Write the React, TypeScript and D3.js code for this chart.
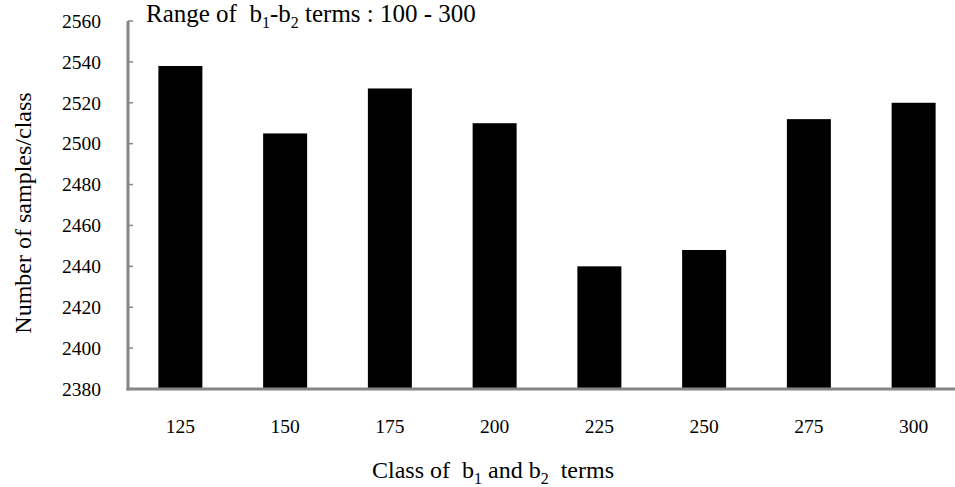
import { useEffect, useRef } from 'react';
import * as d3 from 'd3';

const categories = ['125', '150', '175', '200', '225', '250', '275', '300'];
const samples = [2538, 2505, 2527, 2510, 2440, 2448, 2512, 2520];
const yTicks = [2380, 2400, 2420, 2440, 2460, 2480, 2500, 2520, 2540, 2560];

const WIDTH = 955;
const HEIGHT = 487;
const FONT = "'Liberation Serif', 'Times New Roman', 'DejaVu Serif', serif";

export default function App() {
  const svgRef = useRef<SVGSVGElement>(null);

  useEffect(() => {
    if (!svgRef.current) return;
    const svg = d3.select(svgRef.current);
    svg.selectAll('*').remove();

    const left = 128;
    const bottom = 389;
    const top = 21;

    const x = d3.scaleBand().domain(categories).range([left, 966]).paddingInner(0.58).paddingOuter(0.29);
    const y = d3.scaleLinear().domain([2380, 2560]).range([bottom, top]);

    // bars
    svg
      .selectAll('.bar')
      .data(samples)
      .enter()
      .append('rect')
      .attr('x', (_, i) => x(categories[i]) ?? 0)
      .attr('y', (d) => y(d))
      .attr('width', x.bandwidth())
      .attr('height', (d) => bottom - y(d))
      .attr('fill', '#000');

    // y axis line + ticks
    const axisColor = '#868686';
    svg.append('line')
      .attr('x1', left).attr('x2', left)
      .attr('y1', top).attr('y2', bottom + 1.5)
      .attr('stroke', axisColor).attr('stroke-width', 3);
    svg.selectAll('.ytick')
      .data(yTicks)
      .enter()
      .append('line')
      .attr('x1', left).attr('x2', left + 5)
      .attr('y1', (d) => y(d)).attr('y2', (d) => y(d))
      .attr('stroke', axisColor).attr('stroke-width', 1.5);
    svg.selectAll('.ylabel')
      .data(yTicks)
      .enter()
      .append('text')
      .attr('x', 101)
      .attr('y', (d) => y(d))
      .attr('dy', '0.35em')
      .attr('text-anchor', 'end')
      .style('font-size', '19.5px')
      .attr('fill', '#000')
      .text((d) => d);

    // x axis
    svg.append('line')
      .attr('x1', left - 1.5).attr('x2', WIDTH)
      .attr('y1', bottom).attr('y2', bottom)
      .attr('stroke', axisColor).attr('stroke-width', 3);
    svg.selectAll('.xlabel')
      .data(categories)
      .enter()
      .append('text')
      .attr('x', (d) => (x(d) ?? 0) + x.bandwidth() / 2)
      .attr('y', 433)
      .attr('text-anchor', 'middle')
      .style('font-size', '19.5px')
      .attr('fill', '#000')
      .text((d) => d);

    // title
    const title = svg.append('text')
      .attr('x', 146).attr('y', 22)
      .style('font-size', '25px').attr('fill', '#000')
      .style('white-space', 'pre');
    title.append('tspan').text('Range of  b');
    title.append('tspan').attr('dy', 6).style('font-size', '16px').text('1');
    title.append('tspan').attr('dy', -6).text('-b');
    title.append('tspan').attr('dy', 6).style('font-size', '16px').text('2');
    title.append('tspan').attr('dy', -6).text(' terms : 100 - 300');

    // x axis title
    const xt = svg.append('text')
      .attr('x', 372).attr('y', 478)
      .style('font-size', '24px').attr('fill', '#000')
      .style('white-space', 'pre');
    xt.append('tspan').text('Class of  b');
    xt.append('tspan').attr('dy', 6).style('font-size', '16px').text('1');
    xt.append('tspan').attr('dy', -6).text(' and b');
    xt.append('tspan').attr('dy', 6).style('font-size', '16px').text('2');
    xt.append('tspan').attr('dy', -6).text('  terms');

    // y axis title
    svg.append('text')
      .attr('transform', 'translate(31,213) rotate(-90)')
      .attr('text-anchor', 'middle')
      .style('font-size', '24px').attr('fill', '#000')
      .text('Number of samples/class');
  }, []);

  return (
    <svg
      ref={svgRef}
      width={WIDTH}
      height={HEIGHT}
      style={{ position: 'absolute', left: 0, top: 0, background: '#fff', fontFamily: FONT }}
    />
  );
}
